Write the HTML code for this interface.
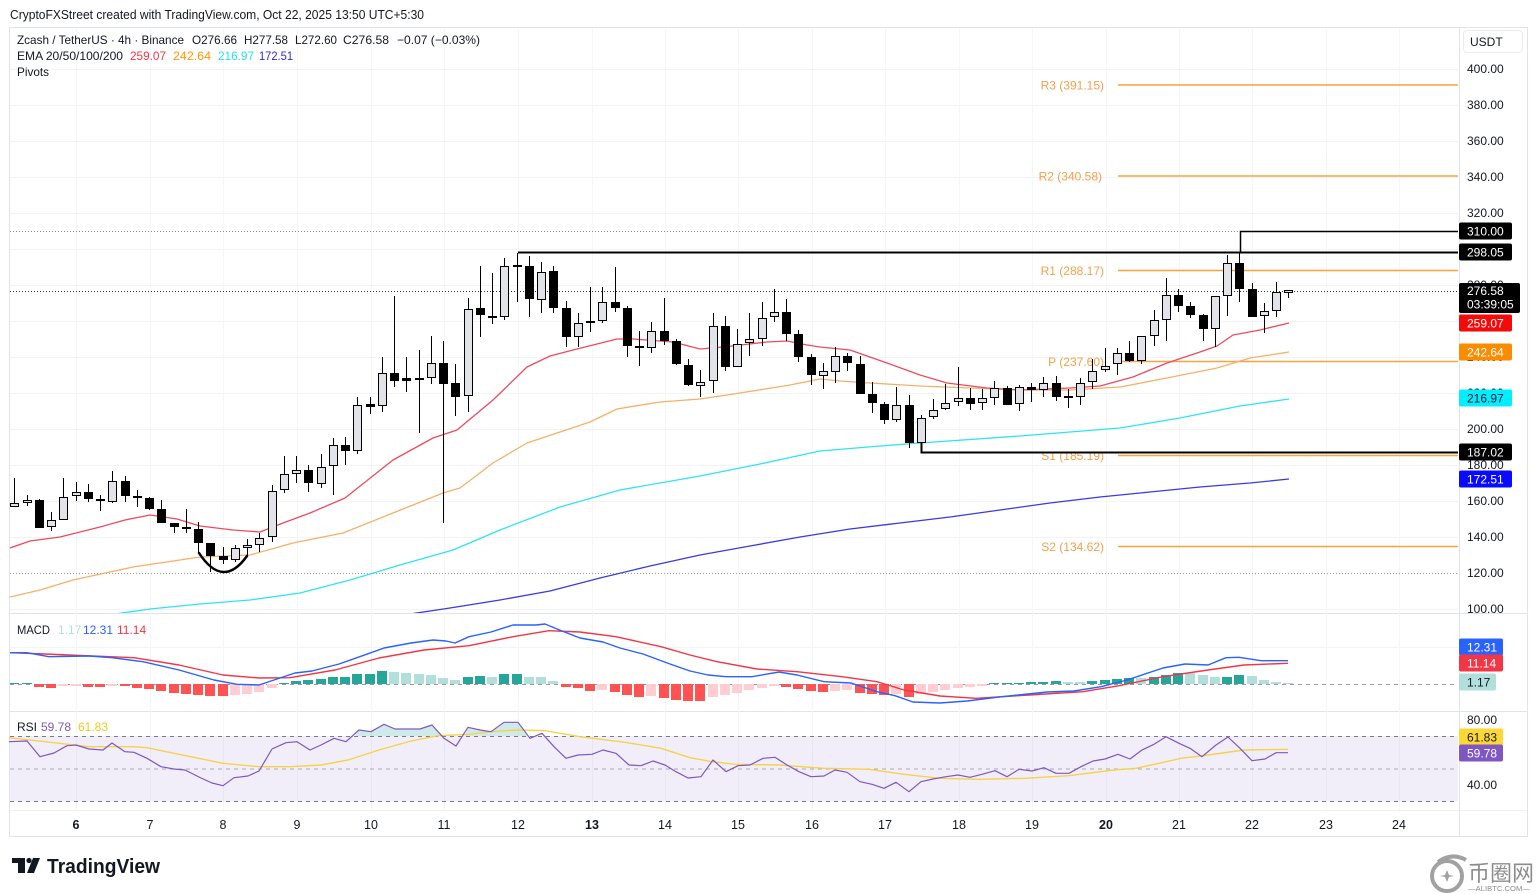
<!DOCTYPE html>
<html>
<head>
<meta charset="utf-8">
<style>
html,body{margin:0;padding:0;background:#fff;}
svg{display:block;font-family:"Liberation Sans",Arial,sans-serif;}
</style>
</head>
<body>
<svg width="1536" height="894" viewBox="0 0 1536 894" xmlns="http://www.w3.org/2000/svg">
<defs>
<clipPath id="mainclip"><rect x="10" y="28" width="1448" height="585"/></clipPath>
<clipPath id="macdclip"><rect x="10" y="615" width="1448" height="96"/></clipPath>
</defs>
<rect x="0" y="0" width="1536" height="894" fill="#ffffff"/>

<!-- top caption -->
<text x="10" y="19" font-size="13" fill="#131722" textLength="414" lengthAdjust="spacingAndGlyphs">CryptoFXStreet created with TradingView.com, Oct 22, 2025 13:50 UTC+5:30</text>

<!-- frame -->
<rect x="9.5" y="27.5" width="1518" height="809" fill="none" stroke="#e0e3eb" stroke-width="1"/>
<line x1="1459.5" y1="28" x2="1459.5" y2="836" stroke="#e0e3eb" stroke-width="1"/>
<line x1="10" y1="613.5" x2="1527" y2="613.5" stroke="#e0e3eb" stroke-width="1"/>
<line x1="10" y1="711.5" x2="1527" y2="711.5" stroke="#e0e3eb" stroke-width="1"/>
<line x1="10" y1="810.5" x2="1527" y2="810.5" stroke="#eef0f4" stroke-width="1"/>

<!-- grid -->
<g stroke="#f2f3f6" stroke-width="1">
<line x1="10" y1="69.5" x2="1458" y2="69.5"/><line x1="10" y1="105.5" x2="1458" y2="105.5"/>
<line x1="10" y1="141.5" x2="1458" y2="141.5"/><line x1="10" y1="177.5" x2="1458" y2="177.5"/>
<line x1="10" y1="213.5" x2="1458" y2="213.5"/><line x1="10" y1="249.5" x2="1458" y2="249.5"/>
<line x1="10" y1="285.5" x2="1458" y2="285.5"/><line x1="10" y1="321.5" x2="1458" y2="321.5"/>
<line x1="10" y1="357.5" x2="1458" y2="357.5"/><line x1="10" y1="393.5" x2="1458" y2="393.5"/>
<line x1="10" y1="429.5" x2="1458" y2="429.5"/><line x1="10" y1="465.5" x2="1458" y2="465.5"/>
<line x1="10" y1="501.5" x2="1458" y2="501.5"/><line x1="10" y1="537.5" x2="1458" y2="537.5"/>
<line x1="10" y1="609.5" x2="1458" y2="609.5"/>
<line x1="10" y1="647.5" x2="1458" y2="647.5"/>
</g>
<g stroke="#f5f6f8" stroke-width="1">
<line x1="76.5" y1="28" x2="76.5" y2="810"/><line x1="150.5" y1="28" x2="150.5" y2="810"/>
<line x1="223.5" y1="28" x2="223.5" y2="810"/><line x1="297.5" y1="28" x2="297.5" y2="810"/>
<line x1="371.5" y1="28" x2="371.5" y2="810"/><line x1="444.5" y1="28" x2="444.5" y2="810"/>
<line x1="518.5" y1="28" x2="518.5" y2="810"/><line x1="592.5" y1="28" x2="592.5" y2="810"/>
<line x1="665.5" y1="28" x2="665.5" y2="810"/><line x1="738.5" y1="28" x2="738.5" y2="810"/>
<line x1="812.5" y1="28" x2="812.5" y2="810"/><line x1="885.5" y1="28" x2="885.5" y2="810"/>
<line x1="959.5" y1="28" x2="959.5" y2="810"/><line x1="1032.5" y1="28" x2="1032.5" y2="810"/>
<line x1="1106.5" y1="28" x2="1106.5" y2="810"/><line x1="1179.5" y1="28" x2="1179.5" y2="810"/>
<line x1="1252.5" y1="28" x2="1252.5" y2="810"/><line x1="1326.5" y1="28" x2="1326.5" y2="810"/>
<line x1="1399.5" y1="28" x2="1399.5" y2="810"/>
</g>

<!-- legend -->
<g font-size="12" fill="#131722">
<text x="17" y="44" textLength="167" lengthAdjust="spacingAndGlyphs">Zcash / TetherUS · 4h · Binance</text>
<text x="192" y="44" textLength="45" lengthAdjust="spacingAndGlyphs">O276.66</text>
<text x="244" y="44" textLength="44" lengthAdjust="spacingAndGlyphs">H277.58</text>
<text x="295" y="44" textLength="42" lengthAdjust="spacingAndGlyphs">L272.60</text>
<text x="343" y="44" textLength="46" lengthAdjust="spacingAndGlyphs">C276.58</text>
<text x="397" y="44" textLength="83" lengthAdjust="spacingAndGlyphs">−0.07 (−0.03%)</text>
<text x="17" y="60" textLength="106" lengthAdjust="spacingAndGlyphs">EMA 20/50/100/200</text>
<text x="130" y="60" fill="#f23645" textLength="36" lengthAdjust="spacingAndGlyphs">259.07</text>
<text x="173" y="60" fill="#ff9800" textLength="38" lengthAdjust="spacingAndGlyphs">242.64</text>
<text x="218" y="60" fill="#22e1f2" textLength="36" lengthAdjust="spacingAndGlyphs">216.97</text>
<text x="259" y="60" fill="#2b2bd9" textLength="34" lengthAdjust="spacingAndGlyphs">172.51</text>
<text x="17" y="76" textLength="32" lengthAdjust="spacingAndGlyphs">Pivots</text>
</g>

<!-- dotted lines -->
<line x1="10" y1="231.5" x2="1458" y2="231.5" stroke="#888" stroke-width="1" stroke-dasharray="1 2"/>
<line x1="10" y1="291.5" x2="1458" y2="291.5" stroke="#333" stroke-width="1" stroke-dasharray="1 2"/>
<line x1="10" y1="573.5" x2="1458" y2="573.5" stroke="#999" stroke-width="1" stroke-dasharray="1 2"/>

<!-- pivots -->
<g stroke="#f7a440" stroke-width="1.6">
<line x1="1118" y1="85" x2="1458" y2="85"/>
<line x1="1118" y1="176" x2="1458" y2="176"/>
<line x1="1118" y1="270.5" x2="1458" y2="270.5"/>
<line x1="1118" y1="361.5" x2="1458" y2="361.5"/>
<line x1="1118" y1="455.5" x2="1458" y2="455.5"/>
<line x1="1118" y1="546.5" x2="1458" y2="546.5"/>
</g>
<g font-size="12" fill="#f5a04a" text-anchor="end">
<text x="1104" y="89.5">R3 (391.15)</text>
<text x="1102" y="180.5">R2 (340.58)</text>
<text x="1104" y="275">R1 (288.17)</text>
<text x="1104" y="366">P (237.60)</text>
<text x="1104" y="460">S1 (185.19)</text>
<text x="1104" y="551">S2 (134.62)</text>
</g>

<!-- EMAs -->
<g clip-path="url(#mainclip)" fill="none" stroke-linejoin="round">
<polyline stroke="#3a3ae0" stroke-width="1.3" points="410,614 450,608 500,600 550,591 600,578 650,566 700,555 750,546 800,537 850,529 900,523 950,517 1000,510 1050,503 1100,497 1150,492 1200,487 1250,483 1289,479"/>
<polyline stroke="#2fe3f3" stroke-width="1.3" points="115,614 150,609 200,604 250,600 300,593 350,580 400,565 453,550 500,530 560,507 620,490 700,476 760,464 820,451 880,446 920,443 1020,436 1120,428 1180,418 1240,406 1289,399"/>
<polyline stroke="#f6b06a" stroke-width="1.3" points="10,597 40,590 73,580 133,567 200,557 250,555 293,543 343,533 393,513 443,493 460,488 493,463 527,443 560,432 590,422 617,409 660,402 700,399 740,393 790,385 820,379 840,381 870,383 920,386 970,388 1020,390 1070,390 1120,387 1167,378 1217,368 1250,358 1289,352"/>
<polyline stroke="#ee4b5e" stroke-width="1.3" points="10,548 30,541 60,537 100,527 125,520 150,515 177,519 200,526 233,530 260,532 283,523 310,513 345,498 393,460 433,438 457,430 493,400 527,367 550,356 573,350 617,339 633,339 673,342 700,349 723,347 767,342 787,341 807,345 820,347 850,350 887,363 920,375 947,383 987,388 1020,390 1070,388 1100,386 1133,377 1167,363 1200,352 1217,346 1233,335 1260,330 1289,323"/>
</g>

<!-- candles -->
<path fill="none" stroke="#000" stroke-width="1" d="M14.5 478V507M27.5 495V506M39.5 499V528M51.5 512V531M63.5 478V520M76.5 482V501M88.5 484V502M100.5 495V511M112.5 471V503M125.5 476V502M137.5 490V507M149.5 497V510M161.5 500V523M174.5 523V533M186.5 509V533M198.5 522V553M210.5 543V572M223.5 547V564M235.5 545V562M247.5 539V557M259.5 533V552M272.5 485V542M284.5 456V493M296.5 456V483M308.5 465V492M321.5 454V488M333.5 438V495M345.5 437V465M357.5 397V454M370.5 397V414M382.5 357V412M394.5 296V387M406.5 357V392M419.5 350V433M431.5 336V384M443.5 341V523M455.5 364V416M468.5 298V412M480.5 266V337M492.5 273V324M504.5 258V320M517.5 253V302M529.5 256V317M541.5 262V313M553.5 266V313M566.5 301V347M578.5 313V347M590.5 287V332M602.5 287V323M615.5 267V312M627.5 306V357M639.5 331V366M651.5 322V353M664.5 298V345M676.5 339V365M688.5 359V386M700.5 370V397M713.5 313V393M725.5 316V371M737.5 329V367M749.5 313V356M762.5 302V346M774.5 289V322M786.5 299V341M798.5 330V362M811.5 354V385M823.5 363V389M835.5 347V383M847.5 353V371M860.5 356V394M872.5 382V413M884.5 402V424M896.5 387V422M909.5 395V448M921.5 415V443M933.5 399V419M945.5 384V410M958.5 367V406M970.5 388V410M982.5 389V410M994.5 381V405M1007.5 386V405M1019.5 385V411M1031.5 383V402M1043.5 377V397M1056.5 376V401M1068.5 389V408M1080.5 378V405M1092.5 359V389M1105.5 348V372M1117.5 348V375M1129.5 341V362M1141.5 336V364M1154.5 310V346M1166.5 278V341M1178.5 289V312M1190.5 302V318M1203.5 314V341M1215.5 296V347M1227.5 255V316M1239.5 253V302M1252.5 283V317M1264.5 303V333M1276.5 282V317M1288.5 290V298"/>
<path fill="#000" d="M35 500h9V528h-9ZM84 492h9V499h-9ZM96 499h9V501h-9ZM121 481h9V496h-9ZM133 496h9V498h-9ZM145 498h9V509h-9ZM157 509h9V523h-9ZM170 523h9V527h-9ZM182 527h9V529h-9ZM194 529h9V543h-9ZM206 543h9V556h-9ZM219 556h9V560h-9ZM304 470h9V483h-9ZM341 445h9V451h-9ZM366 404h9V407h-9ZM390 373h9V381h-9ZM402 378h9V381h-9ZM415 378h9V380h-9ZM439 363h9V384h-9ZM451 383h9V397h-9ZM476 308h9V315h-9ZM488 316h9V318h-9ZM513 265h9V267h-9ZM525 266h9V299h-9ZM549 271h9V308h-9ZM562 308h9V337h-9ZM586 321h9V323h-9ZM611 302h9V308h-9ZM623 308h9V346h-9ZM635 346h9V348h-9ZM660 331h9V341h-9ZM672 341h9V364h-9ZM684 365h9V385h-9ZM721 326h9V367h-9ZM782 312h9V334h-9ZM794 334h9V357h-9ZM807 357h9V375h-9ZM843 356h9V363h-9ZM856 364h9V394h-9ZM868 394h9V403h-9ZM880 404h9V420h-9ZM905 405h9V443h-9ZM966 398h9V404h-9ZM1003 388h9V405h-9ZM1027 387h9V390h-9ZM1052 383h9V397h-9ZM1064 396h9V398h-9ZM1125 353h9V361h-9ZM1174 295h9V306h-9ZM1186 306h9V315h-9ZM1199 315h9V329h-9ZM1235 263h9V289h-9ZM1248 289h9V317h-9Z"/>
<path fill="#e1e3e8" stroke="#000" stroke-width="1" d="M10.5 503.5h8V506.5h-8ZM23.5 500.5h8V502.5h-8ZM47.5 520.5h8V526.5h-8ZM59.5 497.5h8V519.5h-8ZM72.5 492.5h8V495.5h-8ZM108.5 481.5h8V501.5h-8ZM231.5 548.5h8V559.5h-8ZM243.5 545.5h8V547.5h-8ZM255.5 538.5h8V544.5h-8ZM268.5 491.5h8V536.5h-8ZM280.5 474.5h8V489.5h-8ZM292.5 470.5h8V473.5h-8ZM317.5 467.5h8V483.5h-8ZM329.5 445.5h8V465.5h-8ZM353.5 405.5h8V450.5h-8ZM378.5 373.5h8V405.5h-8ZM427.5 363.5h8V377.5h-8ZM464.5 309.5h8V395.5h-8ZM500.5 266.5h8V316.5h-8ZM537.5 272.5h8V299.5h-8ZM574.5 323.5h8V336.5h-8ZM598.5 302.5h8V320.5h-8ZM647.5 331.5h8V347.5h-8ZM696.5 382.5h8V385.5h-8ZM709.5 326.5h8V380.5h-8ZM733.5 344.5h8V366.5h-8ZM745.5 339.5h8V342.5h-8ZM758.5 318.5h8V338.5h-8ZM770.5 312.5h8V316.5h-8ZM819.5 371.5h8V375.5h-8ZM831.5 356.5h8V371.5h-8ZM892.5 405.5h8V419.5h-8ZM917.5 418.5h8V442.5h-8ZM929.5 410.5h8V416.5h-8ZM941.5 403.5h8V408.5h-8ZM954.5 398.5h8V401.5h-8ZM978.5 398.5h8V402.5h-8ZM990.5 388.5h8V397.5h-8ZM1015.5 387.5h8V403.5h-8ZM1039.5 383.5h8V389.5h-8ZM1076.5 383.5h8V396.5h-8ZM1088.5 371.5h8V381.5h-8ZM1101.5 366.5h8V369.5h-8ZM1113.5 353.5h8V363.5h-8ZM1137.5 336.5h8V360.5h-8ZM1150.5 320.5h8V335.5h-8ZM1162.5 295.5h8V319.5h-8ZM1211.5 296.5h8V328.5h-8ZM1223.5 263.5h8V295.5h-8ZM1260.5 311.5h8V315.5h-8ZM1272.5 292.5h8V310.5h-8ZM1284.5 290.5h8V292.5h-8Z"/>

<!-- drawings -->
<path d="M199 553 Q223 589.5 247 556" fill="none" stroke="#000" stroke-width="2.5" stroke-linecap="round"/>
<line x1="518" y1="252.5" x2="1458" y2="252.5" stroke="#000" stroke-width="2"/>
<polyline points="1240.5,253 1240.5,231.5 1458,231.5" fill="none" stroke="#000" stroke-width="1.5"/>
<polyline points="921.5,443 921.5,452.5 1458,452.5" fill="none" stroke="#000" stroke-width="2"/>

<!-- price axis labels -->
<g font-size="12" fill="#131722">
<text x="1467" y="73">400.00</text>
<text x="1467" y="109">380.00</text>
<text x="1467" y="145">360.00</text>
<text x="1467" y="181">340.00</text>
<text x="1467" y="217">320.00</text>
<text x="1467" y="253">300.00</text>
<text x="1467" y="289">280.00</text>
<text x="1467" y="325">260.00</text>
<text x="1467" y="361">240.00</text>
<text x="1467" y="397">220.00</text>
<text x="1467" y="433">200.00</text>
<text x="1467" y="469">180.00</text>
<text x="1467" y="505">160.00</text>
<text x="1467" y="541">140.00</text>
<text x="1467" y="577">120.00</text>
<text x="1467" y="613">100.00</text>
<text x="1467" y="724">80.00</text>
<text x="1467" y="789">40.00</text>
</g>

<!-- USDT box -->
<rect x="1463.5" y="30.5" width="59" height="22" rx="4" fill="#fff" stroke="#e9ebf0"/>
<text x="1470" y="46" font-size="12" fill="#131722">USDT</text>

<!-- badges -->
<g font-size="12">
<rect x="1459" y="222.5" width="53" height="17" rx="2" fill="#000"/><text x="1467" y="235.5" fill="#fff">310.00</text>
<rect x="1459" y="243.5" width="53" height="17" rx="2" fill="#000"/><text x="1467" y="256.5" fill="#fff">298.05</text>
<rect x="1459" y="283" width="61" height="30" rx="2" fill="#000"/><text x="1467" y="295" fill="#fff">276.58</text><text x="1467" y="308.5" fill="#fff">03:39:05</text>
<rect x="1459" y="314.5" width="53" height="17" rx="2" fill="#f50a0a"/><text x="1467" y="327.5" fill="#fff">259.07</text>
<rect x="1459" y="343.5" width="53" height="17" rx="2" fill="#fb8c00"/><text x="1467" y="356.5" fill="#fff">242.64</text>
<rect x="1459" y="389.5" width="53" height="17" rx="2" fill="#00eeff"/><text x="1467" y="402.5" fill="#131722">216.97</text>
<rect x="1459" y="443.5" width="53" height="17" rx="2" fill="#000"/><text x="1467" y="456.5" fill="#fff">187.02</text>
<rect x="1459" y="470.5" width="53" height="17" rx="2" fill="#0a0aff"/><text x="1467" y="483.5" fill="#fff">172.51</text>
<rect x="1459" y="638.5" width="44" height="17" rx="2" fill="#2962ff"/><text x="1467" y="651.5" fill="#fff">12.31</text>
<rect x="1459" y="654.5" width="44" height="17" rx="2" fill="#f23645"/><text x="1467" y="667.5" fill="#fff">11.14</text>
<rect x="1459" y="673.5" width="37" height="17" rx="2" fill="#b2dfdb"/><text x="1467" y="686.5" fill="#131722">1.17</text>
<rect x="1459" y="728.5" width="44" height="17" rx="2" fill="#fdd835"/><text x="1467" y="741.5" fill="#131722">61.83</text>
<rect x="1459" y="744.5" width="44" height="17" rx="2" fill="#7e57c2"/><text x="1467" y="757.5" fill="#fff">59.78</text>
</g>

<!-- MACD pane -->
<g font-size="12">
<text x="17" y="634" fill="#131722" textLength="33" lengthAdjust="spacingAndGlyphs">MACD</text>
<text x="58" y="634" fill="#b2dfdb">1.17</text>
<text x="83" y="634" fill="#2962ff">12.31</text>
<text x="117" y="634" fill="#f23645">11.14</text>
</g>
<line x1="10" y1="684.5" x2="1458" y2="684.5" stroke="#9598a1" stroke-width="1" stroke-dasharray="4 4"/>
<g clip-path="url(#macdclip)">
<g fill="#26a69a">
<rect x="9" y="683" width="10" height="1"/><rect x="22" y="683" width="10" height="1"/>
<rect x="279" y="683" width="10" height="1"/><rect x="291" y="681" width="10" height="3"/>
<rect x="303" y="680" width="10" height="4"/><rect x="316" y="679" width="10" height="5"/>
<rect x="328" y="677" width="10" height="7"/><rect x="340" y="677" width="10" height="7"/>
<rect x="352" y="674" width="10" height="10"/><rect x="365" y="674" width="10" height="10"/>
<rect x="377" y="671" width="10" height="13"/>
<rect x="463" y="677" width="10" height="7"/><rect x="475" y="676" width="10" height="8"/>
<rect x="499" y="674" width="10" height="10"/><rect x="512" y="674" width="10" height="10"/>
<rect x="989" y="683" width="10" height="1"/><rect x="1002" y="683" width="10" height="1"/>
<rect x="1014" y="683" width="10" height="1"/><rect x="1026" y="682" width="10" height="2"/>
<rect x="1038" y="682" width="10" height="2"/><rect x="1051" y="681" width="10" height="3"/>
<rect x="1087" y="681" width="10" height="3"/><rect x="1100" y="680" width="10" height="4"/>
<rect x="1112" y="679" width="10" height="5"/><rect x="1124" y="678" width="10" height="6"/>
<rect x="1149" y="677" width="10" height="7"/><rect x="1161" y="675" width="10" height="9"/>
<rect x="1173" y="673" width="10" height="11"/>
<rect x="1222" y="677" width="10" height="7"/><rect x="1234" y="675" width="10" height="9"/>
</g>
<g fill="#b2dfdb">
<rect x="389" y="672" width="10" height="12"/><rect x="401" y="673" width="10" height="11"/>
<rect x="414" y="674" width="10" height="10"/><rect x="426" y="675" width="10" height="9"/>
<rect x="438" y="678" width="10" height="6"/><rect x="450" y="680" width="10" height="4"/>
<rect x="487" y="677" width="10" height="7"/><rect x="524" y="677" width="10" height="7"/>
<rect x="536" y="677" width="10" height="7"/><rect x="548" y="681" width="10" height="3"/>
<rect x="1063" y="682" width="10" height="2"/><rect x="1075" y="682" width="10" height="2"/>
<rect x="1136" y="678" width="10" height="6"/><rect x="1185" y="673" width="10" height="11"/>
<rect x="1198" y="675" width="10" height="9"/><rect x="1210" y="677" width="10" height="7"/>
<rect x="1247" y="676" width="10" height="8"/><rect x="1259" y="680" width="10" height="4"/>
<rect x="1271" y="682" width="10" height="2"/><rect x="1283" y="683" width="10" height="1"/>
</g>
<g fill="#ff5252">
<rect x="34" y="684" width="10" height="3"/><rect x="46" y="684" width="10" height="4"/>
<rect x="83" y="684" width="10" height="3"/><rect x="95" y="684" width="10" height="3"/>
<rect x="120" y="684" width="10" height="2"/><rect x="132" y="684" width="10" height="4"/>
<rect x="144" y="684" width="10" height="5"/><rect x="156" y="684" width="10" height="7"/>
<rect x="169" y="684" width="10" height="9"/><rect x="181" y="684" width="10" height="10"/>
<rect x="193" y="684" width="10" height="11"/><rect x="205" y="684" width="10" height="12"/>
<rect x="218" y="684" width="10" height="12"/>
<rect x="561" y="684" width="10" height="3"/><rect x="573" y="684" width="10" height="4"/>
<rect x="585" y="684" width="10" height="7"/><rect x="610" y="684" width="10" height="8"/>
<rect x="622" y="684" width="10" height="11"/><rect x="634" y="684" width="10" height="13"/>
<rect x="659" y="684" width="10" height="14"/><rect x="671" y="684" width="10" height="16"/>
<rect x="683" y="684" width="10" height="17"/><rect x="695" y="684" width="10" height="17"/>
<rect x="781" y="684" width="10" height="3"/><rect x="793" y="684" width="10" height="5"/>
<rect x="806" y="684" width="10" height="7"/><rect x="818" y="684" width="10" height="8"/>
<rect x="855" y="684" width="10" height="9"/><rect x="867" y="684" width="10" height="10"/>
<rect x="879" y="684" width="10" height="11"/><rect x="904" y="684" width="10" height="13"/>
</g>
<g fill="#ffcdd2">
<rect x="58" y="684" width="10" height="2"/><rect x="71" y="684" width="10" height="2"/>
<rect x="107" y="684" width="10" height="2"/>
<rect x="230" y="684" width="10" height="11"/><rect x="242" y="684" width="10" height="10"/>
<rect x="254" y="684" width="10" height="8"/><rect x="267" y="684" width="10" height="4"/>
<rect x="597" y="684" width="10" height="6"/><rect x="646" y="684" width="10" height="12"/>
<rect x="708" y="684" width="10" height="13"/><rect x="720" y="684" width="10" height="11"/>
<rect x="732" y="684" width="10" height="9"/><rect x="744" y="684" width="10" height="6"/>
<rect x="757" y="684" width="10" height="4"/><rect x="769" y="684" width="10" height="2"/>
<rect x="830" y="684" width="10" height="7"/><rect x="842" y="684" width="10" height="6"/>
<rect x="891" y="684" width="10" height="10"/><rect x="916" y="684" width="10" height="10"/>
<rect x="928" y="684" width="10" height="8"/><rect x="940" y="684" width="10" height="6"/>
<rect x="953" y="684" width="10" height="4"/><rect x="965" y="684" width="10" height="3"/>
<rect x="977" y="684" width="10" height="2"/>
</g>
<polyline fill="none" stroke="#f23645" stroke-width="1.4" stroke-linejoin="round" points="9,652.7 45,654 134,657.7 179,665 223,675 259,678 290,677.7 335,670 379,658 424,650 469,645.7 513,636.7 549,630.7 580,632 616,636.7 661,646.7 690,655 717,661.7 757,669 797,671.7 842,676.7 877,681.7 904,690 940,696 976,698.3 1029,695 1083,691.7 1119,685.7 1163,676.7 1208,670 1244,665 1288,663.3"/>
<polyline fill="none" stroke="#2962ff" stroke-width="1.4" stroke-linejoin="round" points="9,652.7 27,652.7 49,656.7 89,656 112,657.7 143,661.7 179,670 214,680 237,684.3 259,685 277,679 295,673 312,671 339,664 357,657.7 384,648 411,643 433,640 446,641 455,643 469,636.7 491,632 513,625 536,625 545,624 562,631 580,638 603,642 620,648 643,654 670,664 690,671 708,675 726,676.7 752,676.7 779,672 797,675 824,681.7 851,683 877,691.7 895,695.7 913,702 940,703 967,701 1002,696.7 1047,692 1074,691 1101,686.7 1127,680 1163,668 1185,664 1208,665 1226,657.7 1239,657.3 1261,660.7 1288,660.7"/>
</g>

<!-- RSI pane -->
<g font-size="12">
<text x="17" y="731" fill="#131722">RSI</text>
<text x="41" y="731" fill="#7e57c2">59.78</text>
<text x="78" y="731" fill="#f2c81e">61.83</text>
</g>
<rect x="10" y="736" width="1448" height="65" fill="#7e57c2" fill-opacity="0.1"/>
<polygon points="355,736 359,730 371,731.7 384,724.3 395,729 406,729 420,729 432,725 441,736" fill="#26a69a" fill-opacity="0.22"/>
<polygon points="465,736 468,727.3 480,730 491,731.7 504,722.3 518,722.3 528,736" fill="#26a69a" fill-opacity="0.22"/>
<g stroke="#787b86" stroke-width="1" stroke-dasharray="4 4">
<line x1="10" y1="736.5" x2="1458" y2="736.5"/>
<line x1="10" y1="769" x2="1458" y2="769" stroke-opacity="0.6"/>
<line x1="10" y1="801.5" x2="1458" y2="801.5"/>
</g>
<polyline fill="none" stroke="#f5d24a" stroke-width="1.4" stroke-linejoin="round" points="9,737.7 45,741.7 89,746.7 134,746.7 147,747.7 179,754.3 223,763.3 259,766.7 290,766.7 321,765 348,760 379,750 411,741 438,735.7 469,734.3 491,731.7 518,730 545,730.7 580,736.7 625,742.3 661,748.3 690,757.7 712,761.7 735,764.3 779,765 824,768.3 869,769.3 904,774.3 940,778.3 980,779.3 1025,778.3 1069,775.7 1114,770 1136,768.3 1159,763.3 1181,758.3 1208,755 1244,750 1288,749.3"/>
<polyline fill="none" stroke="#7e57c2" stroke-width="1.2" stroke-linejoin="round" points="9,741.7 27,741 40,756.7 54,753 67,745.7 76,745 89,749 103,750 112,743 125,751.7 134,752.3 147,758.3 161,766.7 174,769 185,770 201,778 212,783 223,785.7 234,777.7 248,776 259,771 272,749 286,742.7 297,741.7 310,750 321,745 334,738.3 346,741.7 359,730 371,731.7 384,724.3 395,729 406,729 420,729 432,725 444,738.3 456,746 468,727.3 480,730 491,731.7 504,722.3 518,722.3 530,738.3 542,733.3 554,746.7 566,758.3 578,755 592,754.3 603,750 616,753.3 629,765 641,765.7 653,761 665,765 676,771.7 688,778 701,776.7 713,760 726,771.7 738,765.7 750,765 763,758.3 775,757.3 787,765 799,771.7 811,776.7 824,776 835,770 847,772.3 860,781.7 872,784.3 884,788.3 896,782.3 909,791.7 921,781.7 933,779 946,776.7 958,775 970,777.3 982,774.3 995,770.7 1007,776.7 1019,769.3 1032,771 1044,767.7 1056,773.3 1069,773.3 1081,766.7 1093,761 1105,759 1118,754.3 1130,759 1142,750 1154,744.3 1166,736.7 1179,743.3 1190,748.3 1202,756.7 1216,745 1228,737 1240,748.3 1252,760.7 1265,759 1276,752.7 1288,752.7"/>

<!-- time axis -->
<g font-size="12.5" fill="#131722" text-anchor="middle">
<text x="76" y="829" font-weight="bold">6</text>
<text x="150" y="829">7</text>
<text x="223" y="829">8</text>
<text x="297" y="829">9</text>
<text x="371" y="829">10</text>
<text x="444" y="829">11</text>
<text x="518" y="829">12</text>
<text x="592" y="829" font-weight="bold">13</text>
<text x="665" y="829">14</text>
<text x="738" y="829">15</text>
<text x="812" y="829">16</text>
<text x="885" y="829">17</text>
<text x="959" y="829">18</text>
<text x="1032" y="829">19</text>
<text x="1106" y="829" font-weight="bold">20</text>
<text x="1179" y="829">21</text>
<text x="1252" y="829">22</text>
<text x="1326" y="829">23</text>
<text x="1399" y="829">24</text>
</g>

<!-- TradingView logo -->
<g fill="#131722">
<rect x="12" y="858" width="13" height="5"/>
<rect x="18" y="858" width="7" height="15"/>
<circle cx="29" cy="860.5" r="2.6"/>
<polygon points="33,858 40,858 34,873 27,873"/>
</g>
<text x="47" y="873" font-size="20" font-weight="bold" fill="#131722" textLength="113" lengthAdjust="spacingAndGlyphs">TradingView</text>

<!-- watermark -->
<g opacity="0.8">
<circle cx="1447" cy="876" r="15" fill="none" stroke="#8a8a8a" stroke-width="4"/>
<path d="M1438 862 Q1452 852 1466 860" fill="none" stroke="#8a8a8a" stroke-width="4"/>
<path d="M1447 870 l2 5 l5 1 l-5 1 l-2 5 l-2 -5 l-5 -1 l5 -1z" fill="#8a8a8a"/>
<text x="1468" y="881" font-size="22" fill="#707070" font-family="'Noto Sans CJK SC','WenQuanYi Zen Hei',sans-serif" textLength="66" lengthAdjust="spacingAndGlyphs">币圈网</text>
<text x="1468" y="891" font-size="7.5" fill="#707070" textLength="62" lengthAdjust="spacingAndGlyphs">—ALIBTC.COM—</text>
</g>
</svg>
</body>
</html>
